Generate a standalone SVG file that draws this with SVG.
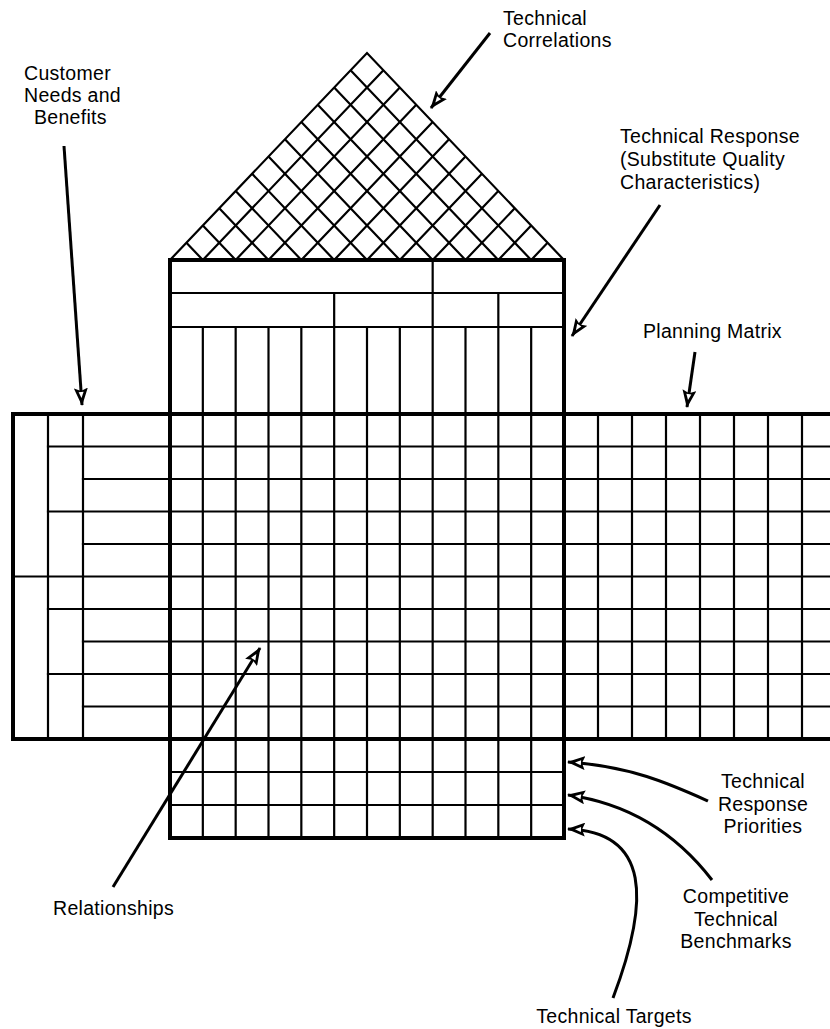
<svg xmlns="http://www.w3.org/2000/svg" width="830" height="1029" viewBox="0 0 830 1029">
<style>
.thin{stroke:#000;stroke-width:2.2;fill:none;stroke-linecap:square}
.thick{stroke:#000;stroke-width:4;fill:none;stroke-linecap:square}
.roof{stroke:#000;stroke-width:2.2;fill:none}
.lbl{font-family:"Liberation Sans",Arial,Helvetica,sans-serif;font-size:19.5px;letter-spacing:0.3px;fill:#000}
.arr{stroke:#000;stroke-width:3;fill:none;marker-end:url(#ah)}
</style>
<defs>
<marker id="ah" viewBox="0 0 18 14" refX="17" refY="7" markerWidth="18" markerHeight="14" markerUnits="userSpaceOnUse" orient="auto">
<path d="M0,0 L18,7 L0,14 L3,7 Z" fill="#000"/>
<path d="M4,4.5 L10,7 L4,9.5 Z" fill="#fff"/>
</marker>
</defs>
<rect width="830" height="1029" fill="#fff"/>

<g id="technical-correlations-roof">
<path class="roof" d="M170,260 L367,53 L564,260" stroke-width="2.5"/>
<path class="roof" d="M202.83,260 L186.42,242.75 M235.67,260 L202.83,225.5 M268.5,260 L219.25,208.25 M301.33,260 L235.67,191 M334.17,260 L252.08,173.75 M367,260 L268.5,156.5 M399.83,260 L284.92,139.25 M432.67,260 L301.33,122 M465.5,260 L317.75,104.75 M498.33,260 L334.17,87.5 M531.17,260 L350.58,70.25"/>
<path class="roof" d="M202.83,260 L383.42,70.25 M235.67,260 L399.83,87.5 M268.5,260 L416.25,104.75 M301.33,260 L432.67,122 M334.17,260 L449.08,139.25 M367,260 L465.5,156.5 M399.83,260 L481.92,173.75 M432.67,260 L498.33,191 M465.5,260 L514.75,208.25 M498.33,260 L531.17,225.5 M531.17,260 L547.58,242.75"/>
</g>

<g id="technical-response">
<path class="thin" d="M170,293 H564 M170,327 H564 M432.67,260 V327 M334.17,293 V327 M498.33,293 V327"/>
<path class="thin" d="M202.83,327 V414 M235.67,327 V414 M268.5,327 V414 M301.33,327 V414 M334.17,327 V414 M367,327 V414 M399.83,327 V414 M432.67,327 V414 M465.5,327 V414 M498.33,327 V414 M531.17,327 V414"/>
</g>

<g id="customer-needs">
<path class="thin" d="M48,414 V739 M83,414 V739"/>
<path class="thin" d="M48,446.5 H170 M83,479 H170 M48,511.5 H170 M83,544 H170 M13,576.5 H170 M48,609 H170 M83,641.5 H170 M48,674 H170 M83,706.5 H170"/>
</g>

<g id="relationships-matrix">
<path class="thin" d="M170,446.5 H564 M170,479 H564 M170,511.5 H564 M170,544 H564 M170,576.5 H564 M170,609 H564 M170,641.5 H564 M170,674 H564 M170,706.5 H564"/>
<path class="thin" d="M202.83,414 V739 M235.67,414 V739 M268.5,414 V739 M301.33,414 V739 M334.17,414 V739 M367,414 V739 M399.83,414 V739 M432.67,414 V739 M465.5,414 V739 M498.33,414 V739 M531.17,414 V739"/>
</g>

<g id="planning-matrix">
<path class="thin" d="M564,446.5 H830 M564,479 H830 M564,511.5 H830 M564,544 H830 M564,576.5 H830 M564,609 H830 M564,641.5 H830 M564,674 H830 M564,706.5 H830"/>
<path class="thin" d="M598,414 V739 M632,414 V739 M666,414 V739 M700,414 V739 M734,414 V739 M768,414 V739 M802,414 V739"/>
</g>

<g id="technical-priorities-benchmarks-targets">
<path class="thin" d="M170,772 H564 M170,805 H564"/>
<path class="thin" d="M202.83,739 V838 M235.67,739 V838 M268.5,739 V838 M301.33,739 V838 M334.17,739 V838 M367,739 V838 M399.83,739 V838 M432.67,739 V838 M465.5,739 V838 M498.33,739 V838 M531.17,739 V838"/>
</g>

<g id="borders">
<path class="thick" d="M170,260 H564 M170,260 V838 M564,260 V838 M170,838 H564"/>
<path class="thick" d="M13,414 H832 M13,739 H832 M13,414 V739"/>
</g>

<g id="connectors">
<path class="arr" d="M490,33 L431,108"/>
<path class="arr" d="M64,146 L82,405"/>
<path class="arr" d="M660,205 L572,336"/>
<path class="arr" d="M695,352 L687,407"/>
<path class="arr" d="M113,887 L260,648"/>
<path class="arr" d="M708,801 C670,784 630,766 568,762"/>
<path class="arr" d="M712,880 C685,845 640,805 568,795"/>
<path class="arr" d="M613,998 C650,900 650,832 568,829"/>
</g>

<g id="label-technical-correlations">
<text class="lbl" x="503" y="25">Technical</text>
<text class="lbl" x="503" y="47">Correlations</text>
</g>
<g id="label-customer-needs">
<text class="lbl" x="24" y="80">Customer</text>
<text class="lbl" x="24" y="102">Needs and</text>
<text class="lbl" x="34" y="124">Benefits</text>
</g>
<g id="label-technical-response">
<text class="lbl" x="620" y="143">Technical Response</text>
<text class="lbl" x="620" y="166">(Substitute Quality</text>
<text class="lbl" x="620" y="189">Characteristics)</text>
</g>
<g id="label-planning-matrix">
<text class="lbl" x="643" y="338">Planning Matrix</text>
</g>
<g id="label-relationships">
<text class="lbl" x="53" y="915">Relationships</text>
</g>
<g id="label-technical-response-priorities">
<text class="lbl" x="763" y="788" text-anchor="middle">Technical</text>
<text class="lbl" x="763" y="811" text-anchor="middle">Response</text>
<text class="lbl" x="763" y="833" text-anchor="middle">Priorities</text>
</g>
<g id="label-competitive-benchmarks">
<text class="lbl" x="736" y="903" text-anchor="middle">Competitive</text>
<text class="lbl" x="736" y="926" text-anchor="middle">Technical</text>
<text class="lbl" x="736" y="948" text-anchor="middle">Benchmarks</text>
</g>
<g id="label-technical-targets">
<text class="lbl" x="614" y="1023" text-anchor="middle">Technical Targets</text>
</g>
</svg>
